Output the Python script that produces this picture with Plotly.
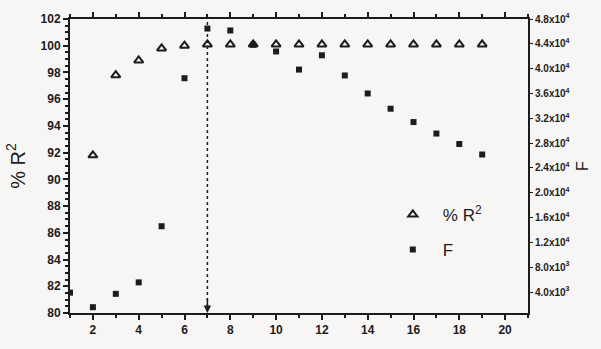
import plotly.graph_objects as go

# ---- data ----
x_r2 = [2, 3, 4, 5, 6, 7, 8, 9, 10, 11, 12, 13, 14, 15, 16, 17, 18, 19]
r2 = [91.8, 97.8, 98.9, 99.8, 100.0, 100.1, 100.1, 100.1, 100.1, 100.1,
      100.1, 100.1, 100.1, 100.1, 100.1, 100.1, 100.1, 100.1]

x_f = [1, 2, 3, 4, 5, 6, 7, 8, 9, 10, 11, 12, 13, 14, 15, 16, 17, 18, 19]
f_vals = [3900, 1550, 3700, 5550, 14600, 38460, 46460, 46150, 43850, 42770,
          39850, 42150, 38900, 36000, 33540, 31390, 29540, 27850, 26160]

x_ticks = [2, 4, 6, 8, 10, 12, 14, 16, 18, 20]
left_ticks = [80, 82, 84, 86, 88, 90, 92, 94, 96, 98, 100, 102]
right_tickvals = [4000, 8000, 12000, 16000, 20000, 24000, 28000, 32000,
                  36000, 40000, 44000, 48000]
right_ticktext = ["4.0x10<sup>3</sup>", "8.0x10<sup>3</sup>",
                  "1.2x10<sup>4</sup>", "1.6x10<sup>4</sup>",
                  "2.0x10<sup>4</sup>", "2.4x10<sup>4</sup>",
                  "2.8x10<sup>4</sup>", "3.2x10<sup>4</sup>",
                  "3.6x10<sup>4</sup>", "4.0x10<sup>4</sup>",
                  "4.4x10<sup>4</sup>", "4.8x10<sup>4</sup>"]
cut_x = 7

ink = "#1c1c1c"
bg = "#f8f6f5"

fig = go.Figure()
fig.add_trace(go.Scatter(
    x=x_r2, y=r2, mode="markers", name="% R<sup>2</sup>",
    legendgroup="a",
    marker=dict(symbol="triangle-up-open", size=8, color=ink,
                line=dict(width=2, color=ink)),
))
fig.add_trace(go.Scatter(
    x=x_f, y=f_vals, mode="markers", name="F", yaxis="y2",
    legendgroup="b",
    marker=dict(symbol="square", size=6, color=ink),
))

# dotted vertical line at the chosen model size
fig.add_shape(type="line", xref="x", yref="paper", x0=cut_x, x1=cut_x,
              y0=0.02, y1=1, line=dict(color=ink, width=1.5, dash="dot"))
fig.add_annotation(x=cut_x, y=80, xref="x", yref="y",
                   ax=0, ay=-16,
                   showarrow=True, arrowhead=2, arrowsize=1, arrowwidth=1.5,
                   arrowcolor=ink, text="")

fig.update_layout(
    width=601, height=349,
    margin=dict(l=70, r=73, t=15, b=26),
    paper_bgcolor=bg, plot_bgcolor=bg,
    font=dict(family="Arial, Liberation Sans, sans-serif", color=ink, size=12),
    showlegend=True,
    legend=dict(x=0.683, y=0.395, xanchor="left", yanchor="top",
                bgcolor="rgba(0,0,0,0)", font=dict(size=17),
                itemwidth=50, tracegroupgap=10, traceorder="grouped"),
    xaxis=dict(range=[1, 21], tickvals=x_ticks, showgrid=False, zeroline=False,
               showline=True, linecolor=ink, linewidth=2, mirror="ticks",
               ticks="outside", ticklen=5, tickwidth=1.5, tickcolor=ink,
               minor=dict(dtick=1, ticks="outside", ticklen=3, tickcolor=ink),
               tickfont=dict(size=12, weight="bold")),
    yaxis=dict(range=[80, 102], tickvals=left_ticks, showgrid=False,
               zeroline=False, showline=True, linecolor=ink, linewidth=2,
               ticks="outside", ticklen=5, tickwidth=1.5, tickcolor=ink,
               minor=dict(dtick=0.5, ticks="outside", ticklen=3, tickcolor=ink),
               tickfont=dict(size=12, weight="bold"),
               title=dict(text="% R<sup>2</sup>", font=dict(size=20),
                          standoff=10)),
    yaxis2=dict(range=[615, 48000], overlaying="y", side="right",
                tickvals=right_tickvals, ticktext=right_ticktext,
                showgrid=False, zeroline=False, showline=True, linecolor=ink,
                linewidth=2, ticks="outside", ticklen=3, tickcolor=ink,
                tickfont=dict(size=10, weight="bold"),
                title=dict(text="F", font=dict(size=16), standoff=8)),
)

fig.write_html("out.html")
